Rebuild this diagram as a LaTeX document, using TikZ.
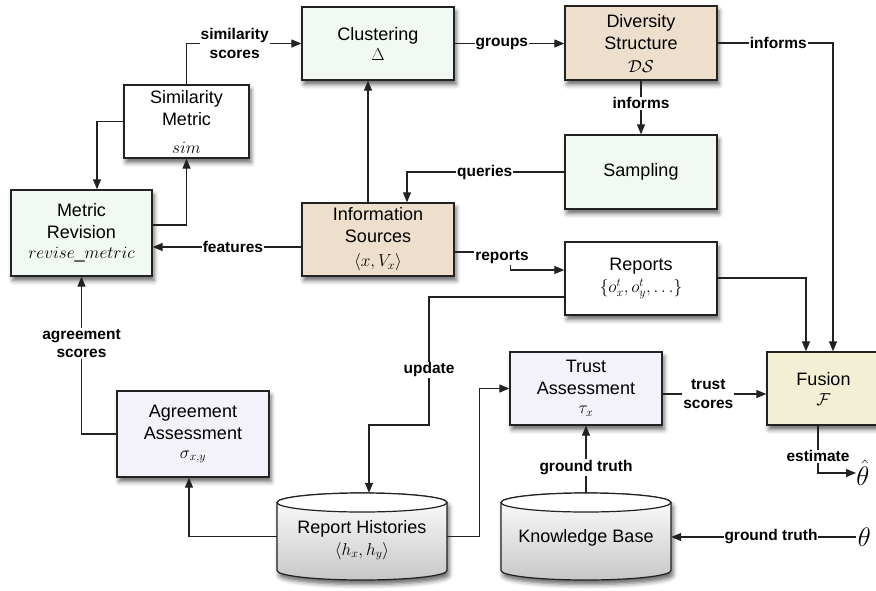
\documentclass[tikz,border=0pt]{standalone}
\usepackage[no-math]{fontspec}
\setmainfont{Liberation Sans}
\usetikzlibrary{arrows.meta,shadows.blur,calc}
\definecolor{mint}{HTML}{F2F8F2}
\definecolor{tanc}{HTML}{EEDFCD}
\definecolor{lav}{HTML}{F3F2FB}
\definecolor{fusc}{HTML}{F2EFD5}
\definecolor{edge}{HTML}{222222}
\begin{document}
\begin{tikzpicture}[x=1pt,y=-1pt,
  box/.style={draw=edge, line width=1.3pt, align=center, inner sep=2pt,
    minimum width=152pt, minimum height=73pt,
    font=\fontsize{18}{22}\selectfont,
    blur shadow={shadow xshift=2pt, shadow yshift=-4.5pt, shadow blur radius=4.5pt, shadow opacity=60}},
  arr/.style={draw=edge, line width=1.2pt, -{Triangle[length=10pt,width=8pt]}},
  lab/.style={fill=white, font=\bfseries\fontsize{15.5}{18.5}\selectfont, align=center, inner sep=1pt},
  cylbody/.style={draw=edge, line width=1.2pt, top color=white, bottom color=black!22,
    blur shadow={shadow xshift=2pt, shadow yshift=-4.5pt, shadow blur radius=4.5pt, shadow opacity=60}},
  cyltop/.style={draw=edge, line width=1.2pt, fill=white},
  cylnode/.style={minimum width=170pt, minimum height=87pt, inner sep=0pt},
  cyltext/.style={align=center, font=\fontsize{18}{22}\selectfont, inner sep=0pt}
]
\useasboundingbox (0,0) rectangle (876,590);

% cylinders
\path[cylbody] (277,502.5) -- (277,570.5) arc[start angle=180,end angle=360,x radius=85pt,y radius=9.5pt] -- (447,502.5) arc[start angle=0,end angle=180,x radius=85pt,y radius=9.5pt] -- cycle;
\path[cyltop] (362,502.5) ellipse[x radius=85pt, y radius=9.5pt];
\path[cylbody] (501,502.5) -- (501,570.5) arc[start angle=180,end angle=360,x radius=85pt,y radius=9.5pt] -- (671,502.5) arc[start angle=0,end angle=180,x radius=85pt,y radius=9.5pt] -- cycle;
\path[cyltop] (586,502.5) ellipse[x radius=85pt, y radius=9.5pt];
\node[cylnode] (rh) at (362,536.5) {};
\node[cylnode] (kb) at (586,536.5) {};
\node[cyltext] (rhtext) at (362,540) {Report Histories\\$\langle h_x,h_y\rangle$};
\node[cyltext] (kbtext) at (586,538) {Knowledge Base};

% boxes
\node[box, fill=white, minimum width=125pt] (sim) at (186.5,121.5) {Similarity\\Metric\\[6pt]$sim$};
\node[box, fill=mint, minimum width=141pt, minimum height=86pt] (rev) at (81.5,233) {Metric\\Revision\\[-2pt]$revise\_metric$};
\node[box, fill=mint] (clu) at (378,43.5) {Clustering\\[-2pt]$\Delta$};
\node[box, fill=tanc, minimum height=74pt] (div) at (641,43) {Diversity\\Structure\\[1pt]$\mathcal{DS}$};
\node[box, fill=mint, minimum height=74pt] (samp) at (641,172) {Sampling};
\node[box, fill=tanc] (info) at (378,239.5) {Information\\Sources\\[2pt]$\langle x,V_x\rangle$};
\node[box, fill=white] (rep) at (641,278.5) {Reports\\$\{o^t_x,o^t_y,\ldots\}$};
\node[box, fill=lav] (trust) at (586,388.5) {Trust\\Assessment\\[-3pt]$\tau_x$};
\node[box, fill=fusc, minimum width=113pt] (fus) at (823.5,388.5) {Fusion\\[-2pt]$\mathcal{F}$};
\node[box, fill=lav, minimum height=86pt] (agr) at (193,434) {Agreement\\Assessment\\[-3pt]$\sigma_{x,y}$};

\node[inner sep=0pt, anchor=west, font=\fontsize{18}{22}\selectfont, scale=1.55] (thetahat) at (856,473) {$\hat\theta$};
\node[inner sep=1pt, anchor=west, font=\fontsize{18}{22}\selectfont, scale=1.55] (theta) at (856,537) {$\theta$};

% connectors
\draw[arr] (sim.north) |- (clu.west) node[lab, pos=0.71] {similarity\\scores};
\draw[arr] (sim.west) -| ([xshift=15.5pt]rev.north);
\draw[arr] ([yshift=8pt]rev.east) -| (sim.south);
\draw[arr] ([yshift=-7.5pt]info.west) -- ([yshift=-7.5pt]info.west -| rev.east) node[lab,pos=0.46] {features};
\draw[arr] ([xshift=-10pt]info.north) -- ([xshift=-10pt]clu.south);
\draw[arr] (clu.east) -- (clu.east -| div.west) node[lab,pos=0.43] {groups};
\draw[arr] (div.south) -- (samp.north) node[lab,pos=0.42] {informs};
\draw[arr] (div.east) -| ([xshift=9.5pt]fus.north) node[lab,pos=0.263] {informs};
\draw[arr] (samp.west) -| ([xshift=29pt]info.north) node[lab,pos=0.253] {queries};
\draw[arr] ([yshift=-12.5pt]info.east) -- ++(56,0) |- ([yshift=8.5pt]rep.west);
\node[lab] (reportslab) at (502,257) {reports};
\draw[arr] ([yshift=-18.5pt]rep.west) -| (429,425) node[lab,pos=0.785] {update} -| ([xshift=7pt]rh.north);
\draw[arr] (rh.east) -- ++(32,0) |- (trust.west);
\draw[arr] (rh.west) -| ([xshift=-4pt]agr.south);
\draw[arr] (agr.west) -| (rev.south) node[lab,pos=0.788] {agreement\\scores};
\draw[arr] ([yshift=-5.5pt]trust.east) -- ([yshift=-5.5pt]trust.east -| fus.west) node[lab,pos=0.44] {trust\\scores};
\draw[arr] ([yshift=0.5pt]rep.east) -| ([xshift=-17.5pt]fus.north);
\draw[arr] ([xshift=-5.5pt]fus.south) |- (thetahat.west) node[lab,pos=0.325] {estimate};
\draw[arr] (theta.west) -- (theta.west -| kb.east) node[lab,pos=0.46] {ground truth};
\draw[arr] (kb.north) -- (trust.south) node[lab,pos=0.38] {ground truth};
\end{tikzpicture}
\end{document}
